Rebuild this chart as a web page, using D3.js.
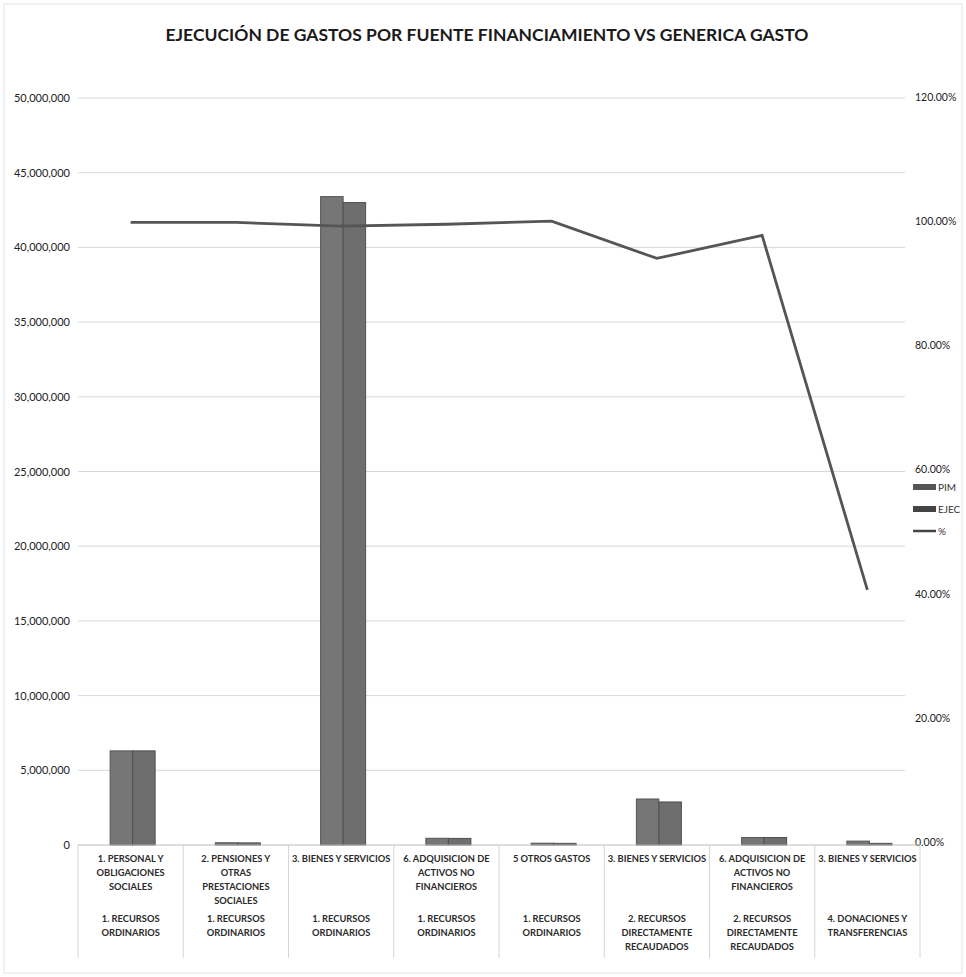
<!DOCTYPE html>
<html><head><meta charset="utf-8">
<script src="https://cdn.jsdelivr.net/npm/d3@7"></script>
<style>body{margin:0;background:#fff}svg{font-family:Lato,"Open Sans",sans-serif}</style>
</head><body>
<script>
const generica = ["1. PERSONAL Y OBLIGACIONES SOCIALES","2. PENSIONES Y OTRAS PRESTACIONES SOCIALES","3. BIENES Y SERVICIOS","6. ADQUISICION DE ACTIVOS NO FINANCIEROS","5 OTROS GASTOS","3. BIENES Y SERVICIOS","6. ADQUISICION DE ACTIVOS NO FINANCIEROS","3. BIENES Y SERVICIOS"];
const genericaLines = [["1. PERSONAL Y","OBLIGACIONES","SOCIALES"],["2. PENSIONES Y","OTRAS","PRESTACIONES","SOCIALES"],["3. BIENES Y SERVICIOS"],["6. ADQUISICION DE","ACTIVOS NO","FINANCIEROS"],["5  OTROS GASTOS"],["3. BIENES Y SERVICIOS"],["6. ADQUISICION DE","ACTIVOS NO","FINANCIEROS"],["3. BIENES Y SERVICIOS"]];
const fuenteLines = [["1. RECURSOS","ORDINARIOS"],["1. RECURSOS","ORDINARIOS"],["1. RECURSOS","ORDINARIOS"],["1. RECURSOS","ORDINARIOS"],["1. RECURSOS","ORDINARIOS"],["2. RECURSOS","DIRECTAMENTE","RECAUDADOS"],["2. RECURSOS","DIRECTAMENTE","RECAUDADOS"],["4. DONACIONES Y","TRANSFERENCIAS"]];
const pim  = [6300000, 150000, 43400000, 450000, 120000, 3080000, 500000, 260000];
const ejec = [6300000, 140000, 43000000, 440000, 110000, 2880000, 500000, 110000];
const pct  = [0.998, 0.998, 0.992, 0.995, 1.0, 0.94, 0.977, 0.406];
const leftTicks = [0,5000000,10000000,15000000,20000000,25000000,30000000,35000000,40000000,45000000,50000000];
const rightTicks = [0,0.2,0.4,0.6,0.8,1.0,1.2];

const W=966,H=977;
const svg=d3.select("body").append("svg").attr("width",W).attr("height",H);
svg.append("rect").attr("x",4).attr("y",4).attr("width",W-8).attr("height",H-8).attr("fill","#fff").attr("stroke","#e4e4e4");

const x0=78,x1=920,yTop=98,yBot=845;
const x=d3.scaleBand().domain(d3.range(generica.length)).range([x0,x1]).padding(0);
const y=d3.scaleLinear().domain([0,50000000]).range([yBot,yTop]);
const yr=d3.scaleLinear().domain([0,1.2]).range([yBot-3,yTop-1]);

svg.append("text").attr("x",487).attr("y",41).attr("text-anchor","middle")
  .attr("font-size",17.5).attr("font-weight","bold").attr("fill","#1a1a1a").text("EJECUCIÓN DE GASTOS POR FUENTE FINANCIAMIENTO VS GENERICA GASTO");

// gridlines
svg.append("g").selectAll("line").data(leftTicks.slice(1)).join("line")
  .attr("x1",x0).attr("x2",905).attr("y1",d=>y(d)).attr("y2",d=>y(d))
  .attr("stroke","#d9d9d9").attr("stroke-width",1);

// left axis
const la=svg.append("g").attr("transform",`translate(${x0-8},0)`)
  .call(d3.axisLeft(y).tickValues(leftTicks).tickFormat(d3.format(",")).tickSize(0).tickPadding(0));
la.select(".domain").remove();
la.selectAll("text").attr("font-size",11).attr("fill","#222").attr("font-family","Lato,sans-serif");

// right axis
const ra=svg.append("g").attr("transform",`translate(915,0)`)
  .call(d3.axisRight(yr).tickValues(rightTicks).tickFormat(d3.format(".2%")).tickSize(0).tickPadding(0));
ra.select(".domain").remove();
ra.selectAll("text").attr("font-size",10.5).attr("fill","#222").attr("font-family","Lato,sans-serif");

// bars
const bw=22.5;
const g=svg.append("g");
g.selectAll("rect.pim").data(pim).join("rect").attr("class","pim")
  .attr("x",(d,i)=>x(i)+x.bandwidth()/2-bw+2).attr("width",bw)
  .attr("y",d=>y(d)).attr("height",d=>yBot-y(d))
  .attr("fill","#767676").attr("stroke","#555").attr("stroke-width",1);
g.selectAll("rect.ejec").data(ejec).join("rect").attr("class","ejec")
  .attr("x",(d,i)=>x(i)+x.bandwidth()/2+2).attr("width",bw)
  .attr("y",d=>y(d)).attr("height",d=>yBot-y(d))
  .attr("fill","#6e6e6e").attr("stroke","#4e4e4e").attr("stroke-width",1);

// x axis line
svg.append("line").attr("x1",x0).attr("x2",x1).attr("y1",yBot).attr("y2",yBot).attr("stroke","#bbb");
// separators
svg.append("g").selectAll("line").data(d3.range(generica.length+1)).join("line")
  .attr("x1",i=>i<generica.length?x(i):x1).attr("x2",i=>i<generica.length?x(i):x1)
  .attr("y1",yBot).attr("y2",958).attr("stroke","#d6d6d6");

// line
const line=d3.line().x((d,i)=>x(i)+x.bandwidth()/2).y(d=>yr(d));
svg.append("path").datum(pct).attr("d",line).attr("fill","none").attr("stroke","#555").attr("stroke-width",2.8);

// category labels
const lab=svg.append("g").attr("font-size",9.3).attr("font-weight","bold").attr("fill","#2a2a2a").attr("text-anchor","middle");
genericaLines.forEach((ls,i)=>{
  const t=lab.append("text").attr("x",x(i)+x.bandwidth()/2).attr("y",862);
  ls.forEach((l,j)=>t.append("tspan").attr("x",x(i)+x.bandwidth()/2).attr("dy",j?14:0).text(l));
});
fuenteLines.forEach((ls,i)=>{
  const t=lab.append("text").attr("x",x(i)+x.bandwidth()/2).attr("y",922);
  ls.forEach((l,j)=>t.append("tspan").attr("x",x(i)+x.bandwidth()/2).attr("dy",j?14:0).text(l));
});

// legend
const leg=svg.append("g").attr("transform","translate(913,488)");
const items=[{n:"PIM",t:"bar",c:"#555"},{n:"EJEC",t:"bar",c:"#444"},{n:"%",t:"line",c:"#444"}];
items.forEach((it,i)=>{
  const gg=leg.append("g").attr("transform",`translate(0,${i*22})`);
  if(it.t==="bar") gg.append("rect").attr("x",0).attr("y",-4).attr("width",23).attr("height",6).attr("fill",it.c);
  else gg.append("line").attr("x1",0).attr("x2",23).attr("y1",-1).attr("y2",-1).attr("stroke",it.c).attr("stroke-width",2.5);
  gg.append("text").attr("x",25).attr("y",3).attr("font-size",10).attr("fill","#333").text(it.n);
});
</script>
</body></html>
